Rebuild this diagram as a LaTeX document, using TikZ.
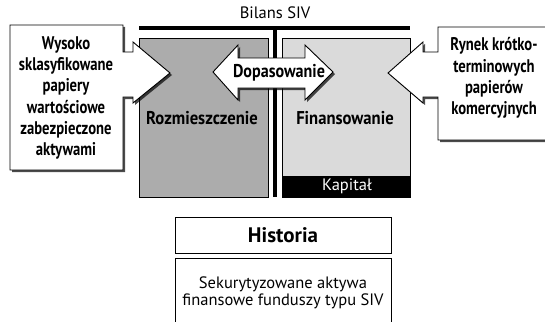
\documentclass[tikz,border=0pt]{standalone}
\usepackage{fontspec}
\setmainfont{PT Sans}
\newfontfamily\calloutfont[FakeStretch=0.8]{PT Sans}
\newfontfamily\sidefont[FakeStretch=0.9]{PT Sans}
\newfontfamily\matchfont[FakeStretch=0.87]{PT Sans}
\usetikzlibrary{shadows}
\definecolor{assetgray}{RGB}{172,172,172}
\definecolor{fundgray}{RGB}{218,218,218}
\tikzset{
  callout/.style={draw=black, line width=0.9pt, fill=white, line join=miter,
    drop shadow={shadow xshift=2pt, shadow yshift=-2pt, opacity=0.7, fill=black}},
  sheet/.style={draw=black, line width=0.6pt},
  bar/.style={fill=black},
  calloutlabel/.style={font=\calloutfont\bfseries\fontsize{18.3}{21.2}\selectfont, align=center, inner sep=0pt},
  sidelabel/.style={font=\sidefont\bfseries\fontsize{18.5}{21}\selectfont, align=center, inner sep=0pt},
  plainlabel/.style={font=\fontsize{16.5}{17.5}\selectfont, align=center, inner sep=0pt},
  framebox/.style={draw=black, line width=0.9pt},
}
\begin{document}
\begin{tikzpicture}[x=1pt,y=-1pt]
\useasboundingbox (0,0) rectangle (545,321);

% balance sheet title and frame
\node[plainlabel] (title) at (275,13) {Bilans SIV};
\fill[bar] (139,26) rectangle (410,30);
\fill[bar] (273,26) rectangle (277,197);

% assets and funding sides
\draw[sheet, fill=assetgray] (139,38) rectangle (268,197);
\draw[sheet, fill=fundgray] (282,38) rectangle (410,197);
\fill[bar] (282,176) rectangle (410,197);
\node[plainlabel, text=white] (capital) at (347,186.5) {Kapitał};
\node[sidelabel] (assets) at (202,118) {Rozmieszczenie};
\node[sidelabel] (funding) at (345,118) {Finansowanie};

% left callout pushing into the assets side
\draw[callout] (10,25) -- (123,25) -- (123,52) -- (133,52) -- (133,42) -- (170,73)
  -- (133,103) -- (133,97) -- (123,97) -- (123,170) -- (10,170) -- cycle;
\node[calloutlabel] (abs) at (66,98) {Wysoko\\sklasyfikowane\\papiery\\wartościowe\\zabezpieczone\\aktywami};

% right callout pushing into the funding side
\draw[callout] (550,27) -- (438,27) -- (438,52) -- (423,52) -- (423,42) -- (388,73)
  -- (423,103) -- (423,97) -- (438,97) -- (438,140) -- (550,140) -- cycle;
\node[calloutlabel] (cp) at (494,78) {Rynek krótko-\\terminowych\\papierów\\komercyjnych};

% matching double arrow
\draw[callout] (213,72) -- (238,45) -- (238,58) -- (305,58) -- (305,45) -- (333,72)
  -- (305,100) -- (305,88) -- (238,88) -- (238,100) -- cycle;
\node[font=\matchfont\bfseries\fontsize{18.5}{21}\selectfont, inner sep=0pt] (match) at (279,73) {Dopasowanie};

% history panel
\draw[framebox] (175,217) rectangle (391,253);
\node[font=\bfseries\fontsize{21}{24}\selectfont, inner sep=0pt] (hist) at (283,235) {Historia};
\draw[framebox] (175,330) -- (175,258) -- (391,258) -- (391,330);
\node[plainlabel] (histtext) at (283,293) {Sekurytyzowane aktywa\\finansowe funduszy typu SIV};
\end{tikzpicture}
\end{document}
